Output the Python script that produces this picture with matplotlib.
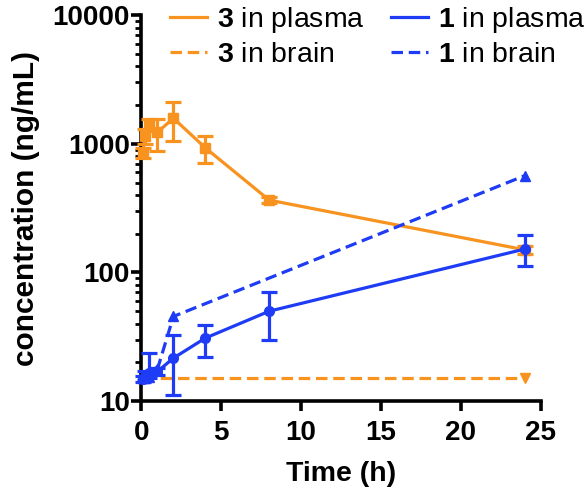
import matplotlib
matplotlib.use("Agg")
import matplotlib.pyplot as plt
from matplotlib.lines import Line2D
import numpy as np

plt.rcParams['font.family'] = ['Liberation Sans', 'DejaVu Sans']
plt.rcParams['mathtext.fontset'] = 'custom'
plt.rcParams['mathtext.bf'] = 'Liberation Sans:bold'
plt.rcParams['mathtext.rm'] = 'Liberation Sans'

# data
t_plasma3 = [0.083, 0.25, 0.5, 1, 2, 4, 8, 24]
c_plasma3 = [850, 1150, 1420, 1230, 1580, 930, 365, 150]
lo_plasma3 = [780, 1000, 1250, 880, 1050, 710, 345, 140]
hi_plasma3 = [930, 1300, 1550, 1560, 2100, 1150, 385, 160]

t_brain3 = [0.083, 0.25, 0.5, 1, 2, 4, 8, 24]
c_brain3 = [15, 15, 15, 15, 15, 15, 15, 15]

t_plasma1 = [0.083, 0.25, 0.5, 1, 2, 4, 8, 24]
c_plasma1 = [14.8, 15.6, 16.5, 17, 21.6, 30.9, 50, 152]
lo_plasma1 = [14.0, 14.5, 15.0, 16.0, 11.1, 22, 29.8, 112]
hi_plasma1 = [15.6, 17, 23.6, 18, 32.6, 39, 70, 195]

t_brain1 = [0.083, 0.25, 0.5, 1, 2, 24]
c_brain1 = [15, 15, 15.5, 17.7, 45.5, 565]

orange = '#F7931E'
blue = '#1E3CF5'
dash = (0, (3.6, 1.8))

fig = plt.figure(figsize=(5.87, 4.88), dpi=100)
ax = fig.add_axes([0.241, 0.178, 0.680, 0.791])

def err(c, lo, hi):
    c = np.array(c); lo = np.array(lo); hi = np.array(hi)
    return [c - lo, hi - c]

lw = 2.3
ax.errorbar(t_plasma3, c_plasma3, yerr=err(c_plasma3, lo_plasma3, hi_plasma3),
            color=orange, lw=lw, marker='s', ms=7, capsize=6, capthick=lw,
            elinewidth=lw, clip_on=False, zorder=3)
ax.plot(t_brain3, c_brain3, color=orange, lw=lw, ls=dash,
        clip_on=False, zorder=3)
ax.plot(t_brain3[-1:], c_brain3[-1:], color=orange, marker='v', ms=7,
        ls='none', clip_on=False, zorder=3)
ax.errorbar(t_plasma1, c_plasma1, yerr=err(c_plasma1, lo_plasma1, hi_plasma1),
            color=blue, lw=lw, marker='o', ms=7, capsize=6, capthick=lw,
            elinewidth=lw, clip_on=False, zorder=4)
ax.plot(t_brain1, c_brain1, color=blue, lw=lw, ls=dash,
        marker='^', ms=7, clip_on=False, zorder=4)

ax.set_yscale('log')
ax.set_ylim(10, 10000)
ax.set_xlim(0, 25)
ax.set_xticks([0, 5, 10, 15, 20, 25])
ax.set_yticks([10, 100, 1000, 10000])
ax.set_yticklabels(['10', '100', '1000', '10000'])

for s in ['top', 'right']:
    ax.spines[s].set_visible(False)
for s in ['left', 'bottom']:
    ax.spines[s].set_linewidth(2.6)

ax.tick_params(axis='both', which='major', width=2.6, length=7.5, labelsize=20,
               direction='out')
ax.tick_params(axis='x', which='major', pad=6)
ax.tick_params(axis='y', which='major', pad=1)
ax.tick_params(axis='y', which='minor', width=2.0, length=4.5, direction='out')
for lab in ax.get_xticklabels() + ax.get_yticklabels():
    lab.set_fontweight('bold')

ax.set_xlabel('Time (h)', fontsize=20.5, fontweight='bold', labelpad=11)
ax.set_ylabel('concentration (ng/mL)', fontsize=21.5, fontweight='bold', labelpad=9)

handles = [Line2D([], [], color=orange, lw=lw),
           Line2D([], [], color=orange, lw=lw, ls=dash),
           Line2D([], [], color=blue, lw=lw),
           Line2D([], [], color=blue, lw=lw, ls=dash)]
labels = [r'$\mathbf{3}$ in plasma', r'$\mathbf{3}$ in brain',
          r'$\mathbf{1}$ in plasma', r'$\mathbf{1}$ in brain']
leg = fig.legend(handles, labels, ncol=2, loc='upper left',
                 bbox_to_anchor=(0.256, 1.03), frameon=False, fontsize=20.5,
                 handlelength=1.3, handletextpad=0.35, columnspacing=0.92,
                 labelspacing=0.25, borderaxespad=0.3)

fig.savefig('out.png', dpi=100)
